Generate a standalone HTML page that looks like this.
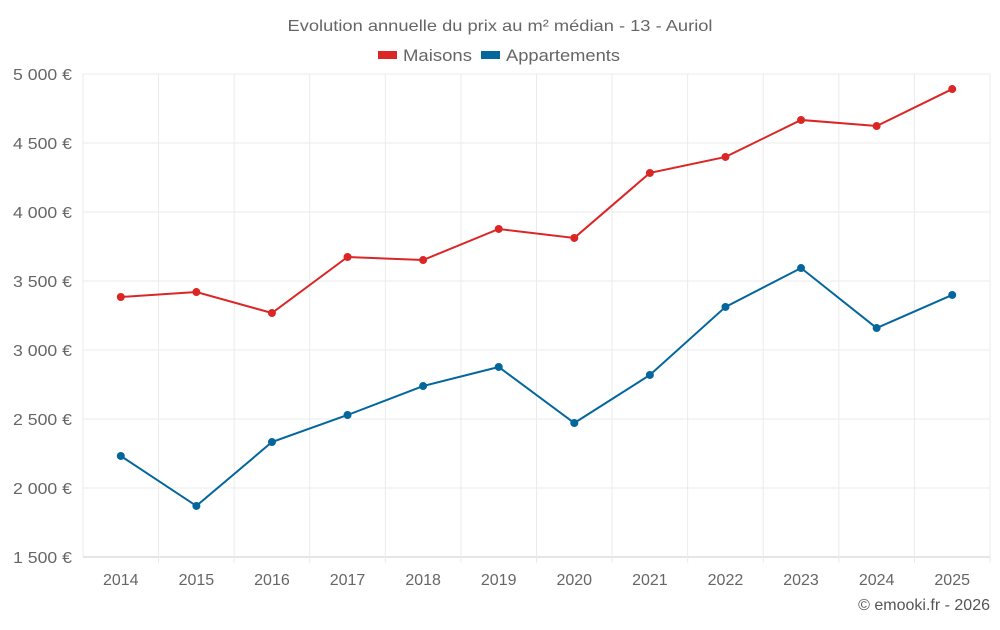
<!DOCTYPE html>
<html><head><meta charset="utf-8"><style>
html,body{margin:0;padding:0;background:#fff;}
svg text{font-family:"Liberation Sans",sans-serif;}
</style></head><body>
<svg id="chart" width="1000" height="625">
<text x="500" y="31" text-anchor="middle" font-size="16" fill="#666" textLength="425" lengthAdjust="spacingAndGlyphs">Evolution annuelle du prix au m² médian - 13 - Auriol</text>
<g>
<g><rect x="378" y="51" width="19" height="8" fill="#dc2626"/><text x="403" y="61" font-size="17" fill="#666" textLength="69" lengthAdjust="spacingAndGlyphs">Maisons</text></g>
<g><rect x="481" y="51" width="19" height="8" fill="#03669d"/><text x="506" y="61" font-size="17" fill="#666" textLength="114" lengthAdjust="spacingAndGlyphs">Appartements</text></g>
</g>
<g id="grid"></g><g id="axes"></g><g id="series"></g>
<text x="990" y="610" text-anchor="end" font-size="16" fill="#555">© emooki.fr - 2026</text>
</svg>
<script>
const years=[2014,2015,2016,2017,2018,2019,2020,2021,2022,2023,2024,2025];
const maisons=[3384,3420,3268,3674,3652,3877,3812,4283,4399,4667,4623,4891];
const appartements=[2232,1870,2333,2529,2739,2877,2471,2819,3312,3594,3159,3399];
const yTicks=[1500,2000,2500,3000,3500,4000,4500,5000];
const yTickLabels=["1 500 €","2 000 €","2 500 €","3 000 €","3 500 €","4 000 €","4 500 €","5 000 €"];
const NS="http://www.w3.org/2000/svg";
const L=83,R=990,T=74,B=557;
const step=(R-L)/years.length;
function x(i){return L+step*(i+0.5);}
function y(v){return B-(v-1500)/3500*(B-T);}
function mk(t,a,p){const e=document.createElementNS(NS,t);for(const k in a)e.setAttribute(k,a[k]);p.appendChild(e);return e;}
const grid=document.getElementById('grid'),axes=document.getElementById('axes'),ser=document.getElementById('series');
yTicks.forEach((v,i)=>{
 const l=mk('line',{x1:L,x2:R,y1:y(v),y2:y(v),stroke:i==0?'#ccc':'#ebebeb','stroke-width':1},grid);
 
 
 const t=mk('text',{x:72,y:y(v)+6,'text-anchor':'end','font-size':16,fill:'#666',textLength:59,lengthAdjust:'spacingAndGlyphs'},axes);
 t.textContent=yTickLabels[i];
 
 
});
for(let i=0;i<=years.length;i++){
 const l=mk('line',{x1:L+step*i,x2:L+step*i,y1:T,y2:B+(i==0?0:6),stroke:'#ebebeb','stroke-width':1},grid);
 
 
}
years.forEach((yr,i)=>{
 const t=mk('text',{x:x(i),y:585,'text-anchor':'middle','font-size':16,fill:'#666'},axes);
 t.textContent=yr;
 
 
});
function draw(data,color,name){
 const g=mk('g',{},ser);
 
 
 const p=mk('polyline',{points:data.map((v,i)=>x(i)+','+y(v)).join(' '),fill:'none',stroke:color,'stroke-width':2},g);
 
 
 data.forEach((v,i)=>{
  const c=mk('circle',{cx:x(i),cy:y(v),r:4,fill:color},g);
  
  
 });
}
draw(maisons,'#dc2626','maisons');
draw(appartements,'#03669d','appartements');
</script>
</body></html>
